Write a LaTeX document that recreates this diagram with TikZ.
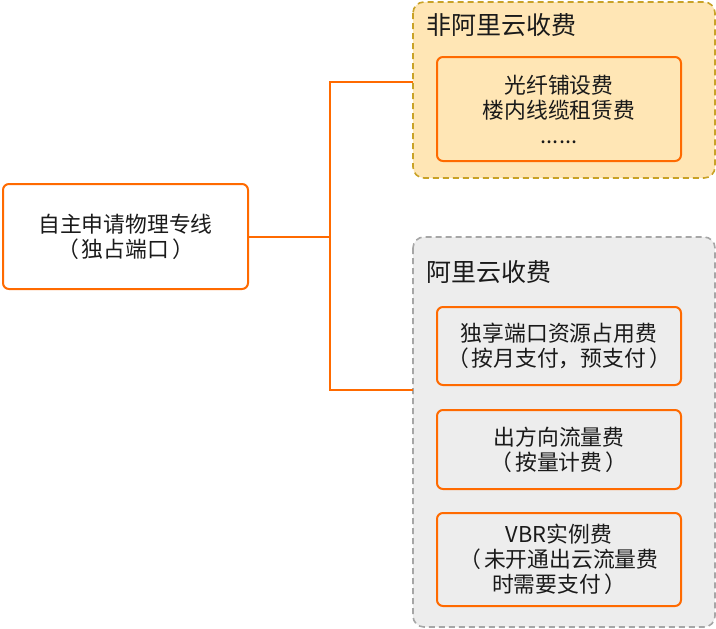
\documentclass[tikz,border=0pt]{standalone}
\usepackage{fontspec}
\setmainfont{Noto Sans CJK SC}
\definecolor{aliorange}{HTML}{FF6A00}
\definecolor{topfill}{HTML}{FFE6B5}
\definecolor{topborder}{HTML}{C9A227}
\definecolor{grayfill}{HTML}{EDEDED}
\definecolor{grayborder}{HTML}{A6A6A6}
\definecolor{txt}{HTML}{1A1A1A}
\newcommand{\lp}{（\hspace{3pt}}
\newcommand{\rp}{\hspace{3pt}）}
\begin{document}
\begin{tikzpicture}[x=1pt,y=-1pt,
  box/.style={draw=aliorange,line width=2pt,rounded corners=6pt,inner sep=0pt,
    align=center,text=txt,font=\fontsize{21.8}{25}\selectfont},
  group/.style={line width=1.6pt,dash pattern=on 6pt off 4pt,rounded corners=11pt},
  title/.style={anchor=west,text=txt,inner sep=0pt,font=\fontsize{25}{29}\selectfont},
  link/.style={draw=aliorange,line width=2pt}]
\useasboundingbox (0,0) rectangle (716,629);
% groups
\draw[group,draw=topborder,fill=topfill] (413,2) rectangle (715,178);
\node[inner sep=0pt,minimum width=302pt,minimum height=176pt] (topgroup) at (564,90) {};
\draw[group,draw=grayborder,fill=grayfill] (413,237) rectangle (715,627);
\node[inner sep=0pt,minimum width=302pt,minimum height=390pt] (graygroup) at (564,432) {};
\node[title] (t1) at (426,25) {非阿里云收费};
\node[title] (t2) at (426,272) {阿里云收费};
% boxes
\node[box,fill=white,minimum width=245pt,minimum height=105pt] (left) at (125.5,236.5)
  {自主申请物理专线\\\lp 独占端口\rp};
\node[box,fill=topfill,minimum width=244pt,minimum height=104pt] (b0) at (559,109)
  {光纤铺设费\\楼内线缆租赁费\\......};
\node[box,fill=grayfill,minimum width=244pt,minimum height=78pt] (b1) at (559,346)
  {独享端口资源占用费\\\lp 按月支付，预支付\rp};
\node[box,fill=grayfill,minimum width=244pt,minimum height=79pt] (b2) at (559,449.5)
  {出方向流量费\\\lp 按量计费\rp};
\node[box,fill=grayfill,minimum width=244pt,minimum height=93pt] (b3) at (559,559.5)
  {VBR实例费\\\lp 未开通出云流量费\\时需要支付\rp};
% connectors
\coordinate (j) at (330,236.5);
\coordinate (ja) at (330,82);
\coordinate (jb) at (330,390);
\coordinate (ea) at (topgroup.west |- ja);
\coordinate (eb) at (graygroup.west |- jb);
\draw[link] (left.east) -- (j);
\draw[link] (ea) -- (ja) -- (jb) -- (eb);
\end{tikzpicture}
\end{document}
